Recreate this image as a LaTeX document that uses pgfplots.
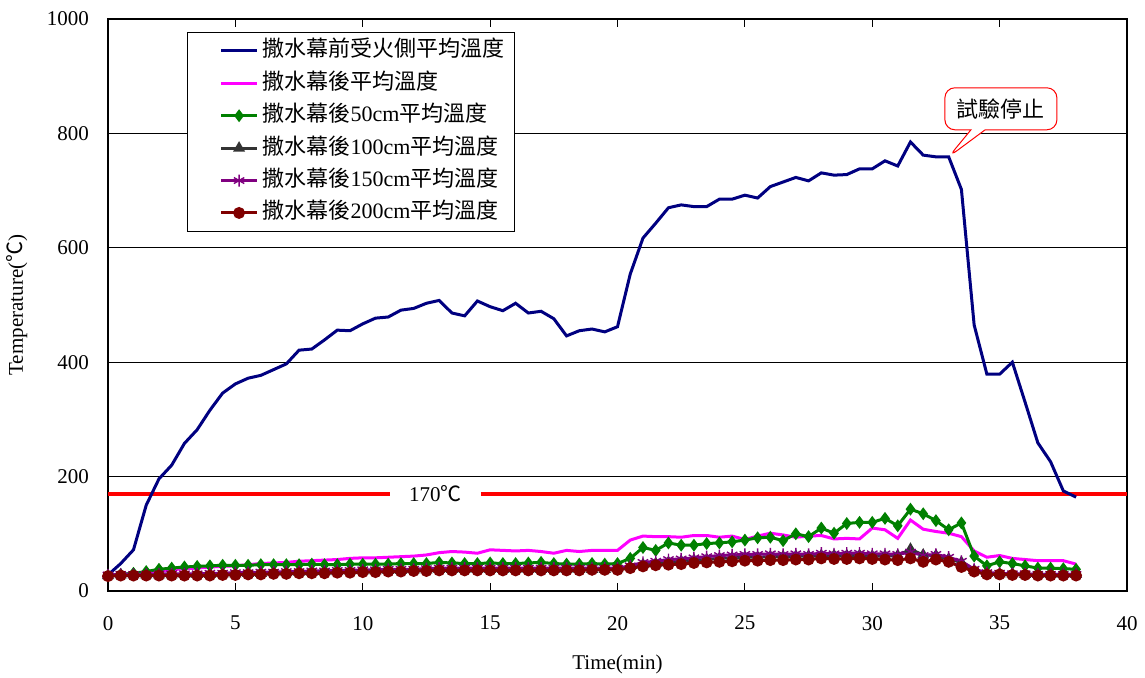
\documentclass[border=0pt]{standalone}
\usepackage{fontspec}
\setmainfont{Liberation Serif}
\newfontfamily\cjk{Noto Sans CJK TC}
\usepackage{pgfplots}
\pgfplotsset{compat=1.18}
\usepackage{pgfplotstable}
\usetikzlibrary{shapes.callouts}
\definecolor{cB}{RGB}{0,0,128}
\definecolor{cM}{RGB}{255,0,255}
\definecolor{cG}{RGB}{0,128,0}
\definecolor{cK}{RGB}{51,51,51}
\definecolor{cP}{RGB}{128,0,128}
\definecolor{cR}{RGB}{128,0,0}
\pgfplotstableread{
t B M G K P R
0 28 27 27 27 28 26
0.5 48 29 29 28 29 27
1 72 31 31 28 29 27
1.5 150 33 34 28 29 27
2 196 35 38 28 30 27
2.5 220 37 40 28 30 27
3 258 39 42 29 30 27
3.5 282 40 43 29 30 27
4 316 42 44 29 31 27
4.5 346 43 45 30 31 28
5 362 44 45 30 32 28
5.5 372 46 45 31 32 29
6 377 48 46 31 33 29
6.5 387 49 46 32 33 30
7 397 50 46 32 34 30
7.5 421 52 46 33 34 31
8 423 53 47 33 35 31
8.5 439 54 46 34 35 31
9 456 55 46 34 36 32
9.5 455 57 47 35 36 32
10 467 58 47 35 37 33
10.5 477 58 47 35 37 33
11 479 59 47 36 38 34
11.5 491 60 48 36 38 34
12 494 61 48 37 38 35
12.5 503 63 48 37 39 35
13 508 67 50 38 40 36
13.5 486 69 49 38 40 36
14 481 68 48 38 40 36
14.5 507 66 48 38 40 36
15 497 72 49 38 40 36
15.5 490 71 48 38 40 36
16 503 70 48 38 40 36
16.5 486 71 49 38 40 36
17 489 69 50 38 40 36
17.5 476 66 48 38 40 36
18 446 71 47 38 40 36
18.5 455 69 47 38 40 36
19 458 71 48 38 40 37
19.5 453 71 47 38 40 37
20 462 71 48 39 40 37
20.5 554 89 57 43 44 40
21 617 96 76 46 50 43
21.5 643 95 71 48 52 45
22 670 95 84 50 55 46
22.5 675 94 80 52 56 47
23 672 97 80 54 58 49
23.5 672 97 83 55 60 50
24 685 94 84 57 62 51
24.5 685 96 86 58 63 52
25 692 90 89 59 64 53
25.5 687 96 93 59 64 53
26 707 101 94 60 65 54
26.5 715 98 88 60 64 54
27 723 94 100 61 65 55
27.5 717 96 95 61 64 55
28 731 97 110 62 66 57
28.5 727 91 101 62 65 56
29 728 92 118 62 66 56
29.5 738 91 120 62 66 57
30 738 110 120 61 65 56
30.5 752 107 127 61 65 55
31 743 92 114 62 64 54
31.5 785 124 143 73 68 57
32 762 108 135 63 62 51
32.5 759 104 123 62 64 55
33 759 101 107 56 59 51
33.5 702 95 119 50 52 42
34 465 70 61 36 38 34
34.5 379 59 44 31 32 29
35 379 62 51 30 31 29
35.5 400 57 48 30 30 28
36 330 55 44 29 30 28
36.5 259 53 40 29 29 27
37 226 53 40 29 29 27
37.5 175 53 39 29 29 27
38 164 47 38 29 29 27
}\data
\begin{document}
\begin{tikzpicture}
\path[use as bounding box] (0,0) rectangle (572.5pt,339pt);
\begin{axis}[
  at={(54pt,43.5pt)}, anchor=south west,
  scale only axis, width=509.5pt, height=286pt,
  xmin=0, xmax=40, ymin=0, ymax=1000,
  xtick={0,5,10,15,20,25,30,35,40}, ytick={0,200,400,600,800,1000},
  xticklabels={0,5,10,15,20,25,30,35,40},
  yticklabels={0,200,400,600,800,1000},
  ymajorgrids, grid style={black, line width=0.5pt},
  axis line style={line width=1.2pt},
  tick align=inside, major tick length=4pt,
  xtick style={black, line width=0.6pt},
  ytick style={draw=none},
  tick label style={font=\rmfamily\fontsize{10.5}{12}\selectfont},
  xticklabel style={yshift=-9pt},
  yticklabel style={xshift=-6pt},
  xlabel={Time(min)}, ylabel={Temperature({\cjk ℃})},
  label style={font=\fontsize{10.5}{12}\selectfont},
  xlabel style={at={(axis description cs:0.5,-0.1276)}, anchor=center},
  ylabel style={at={(axis description cs:-0.0893,0.5)}, anchor=center},
  legend style={at={(axis description cs:0.0775,0.977)}, anchor=north west,
    draw=black, line width=0.6pt, font=\fontsize{11}{13}\selectfont,
    inner xsep=3pt, inner ysep=1pt,
    nodes={text height=9.5pt, text depth=3.5pt, inner ysep=1.6pt}},
  legend cell align=left,
  legend image code/.code={\path (0pt,0pt); \draw[mark repeat=2,mark phase=2,#1] plot coordinates {(13pt,0pt)(22pt,0pt)(31pt,0pt)};},
]
\addplot[red, line width=2pt, forget plot] coordinates {(0,170)(11.07,170)};
\addplot[red, line width=2pt, forget plot] coordinates {(14.64,170)(40,170)};
\node[font=\fontsize{10.5}{12}\selectfont] at (axis cs:12.85,170) {170{\cjk ℃}};
\addplot[cB, line width=1.5pt, no markers] table[x=t,y=B] {\data};
\addlegendentry{{\cjk 撒水幕前受火側平均溫度}}
\addplot[cM, line width=1.5pt, no markers] table[x=t,y=M] {\data};
\addlegendentry{{\cjk 撒水幕後平均溫度}}
\addplot[cG, line width=1.5pt, mark=diamond*, mark size=2pt, mark options={solid, fill=cG}] table[x=t,y=G] {\data};
\addlegendentry{{\cjk 撒水幕後}50cm{\cjk 平均溫度}}
\addplot[cK, line width=1.5pt, mark=triangle*, mark size=2pt, mark options={solid, fill=cK}] table[x=t,y=K] {\data};
\addlegendentry{{\cjk 撒水幕後}100cm{\cjk 平均溫度}}
\addplot[cP, line width=1.5pt, mark=asterisk, mark size=3pt, mark options={solid, line width=0.7pt}] table[x=t,y=P] {\data};
\addlegendentry{{\cjk 撒水幕後}150cm{\cjk 平均溫度}}
\addplot[cR, line width=1.5pt, mark=*, mark size=2.2pt, mark options={solid, fill=cR}] table[x=t,y=R] {\data};
\addlegendentry{{\cjk 撒水幕後}200cm{\cjk 平均溫度}}
\node[rectangle callout, draw=red, fill=white, line width=0.5pt, rounded corners=5pt,
  minimum width=56pt, minimum height=21pt, font=\cjk\fontsize{11}{13}\selectfont,
  callout absolute pointer={(axis cs:33,759)}] at (axis cs:35.05,843) {試驗停止};
\end{axis}
\end{tikzpicture}
\end{document}
